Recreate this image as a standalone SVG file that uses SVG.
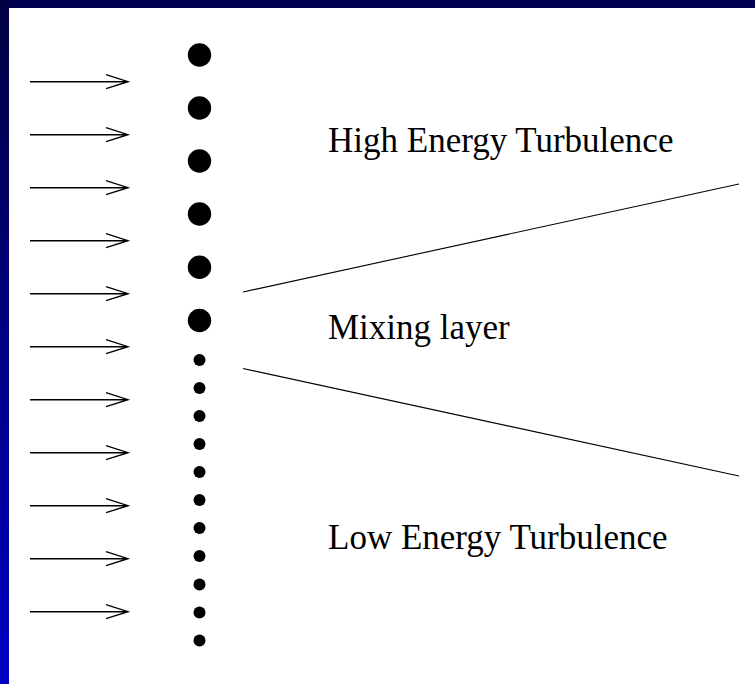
<svg xmlns="http://www.w3.org/2000/svg" width="755" height="684" viewBox="0 0 755 684">
<defs>
<linearGradient id="band" x1="0" y1="0" x2="0" y2="1">
<stop offset="0" stop-color="#000040"/>
<stop offset="1" stop-color="#0000c4"/>
</linearGradient>
<marker id="head" viewBox="0 0 24 16" refX="22" refY="8" markerWidth="24" markerHeight="16" markerUnits="userSpaceOnUse" orient="auto">
<path d="M0,1 L22,8 L0,15" fill="none" stroke="#000" stroke-width="1.3"/>
</marker>
<style>
.arrow{stroke:#000;stroke-width:1.4;fill:none}
.big{fill:#000}
.small{fill:#000}
.lbl{font-family:"Liberation Serif","Times New Roman",serif;font-size:35px;fill:#000}
.edge{stroke:#000;stroke-width:1.1;fill:none}
</style>
</defs>
<rect width="755" height="684" fill="#fff"/>
<rect x="0" y="0" width="755" height="8" fill="#000050"/>
<rect x="0" y="0" width="9" height="684" fill="url(#band)"/>
<g id="flow">
<path class="arrow" d="M30,81.7H128M106,74.7L128,81.7L106,88.7"/>
<path class="arrow" d="M30,134.7H128M106,127.7L128,134.7L106,141.7"/>
<path class="arrow" d="M30,187.7H128M106,180.7L128,187.7L106,194.7"/>
<path class="arrow" d="M30,240.7H128M106,233.7L128,240.7L106,247.7"/>
<path class="arrow" d="M30,293.7H128M106,286.7L128,293.7L106,300.7"/>
<path class="arrow" d="M30,346.7H128M106,339.7L128,346.7L106,353.7"/>
<path class="arrow" d="M30,399.7H128M106,392.7L128,399.7L106,406.7"/>
<path class="arrow" d="M30,452.7H128M106,445.7L128,452.7L106,459.7"/>
<path class="arrow" d="M30,505.7H128M106,498.7L128,505.7L106,512.7"/>
<path class="arrow" d="M30,558.7H128M106,551.7L128,558.7L106,565.7"/>
<path class="arrow" d="M30,611.7H128M106,604.7L128,611.7L106,618.7"/>
</g>
<g id="large-particles">
<circle class="big" cx="199.5" cy="55" r="11.7"/>
<circle class="big" cx="199.5" cy="108" r="11.7"/>
<circle class="big" cx="199.5" cy="161" r="11.7"/>
<circle class="big" cx="199.5" cy="214" r="11.7"/>
<circle class="big" cx="199.5" cy="267.3" r="11.7"/>
<circle class="big" cx="199.5" cy="320.5" r="11.7"/>
</g>
<g id="small-particles">
<circle class="small" cx="199.5" cy="360" r="6"/>
<circle class="small" cx="199.5" cy="388" r="6"/>
<circle class="small" cx="199.5" cy="416" r="6"/>
<circle class="small" cx="199.5" cy="444" r="6"/>
<circle class="small" cx="199.5" cy="472" r="6"/>
<circle class="small" cx="199.5" cy="500" r="6"/>
<circle class="small" cx="199.5" cy="528" r="6"/>
<circle class="small" cx="199.5" cy="556" r="6"/>
<circle class="small" cx="199.5" cy="584.5" r="6"/>
<circle class="small" cx="199.5" cy="612.5" r="6"/>
<circle class="small" cx="199.5" cy="640.5" r="6"/>
</g>
<g id="connectors">
<line class="edge" x1="243" y1="292" x2="739" y2="184"/>
<line class="edge" x1="243" y1="368.5" x2="739" y2="476"/>
</g>
<g id="high">
<text class="lbl" x="328" y="151.5">High Energy Turbulence</text>
</g>
<g id="mixing">
<text class="lbl" x="328" y="339">Mixing layer</text>
</g>
<g id="low">
<text class="lbl" x="328" y="549">Low Energy Turbulence</text>
</g>
</svg>
